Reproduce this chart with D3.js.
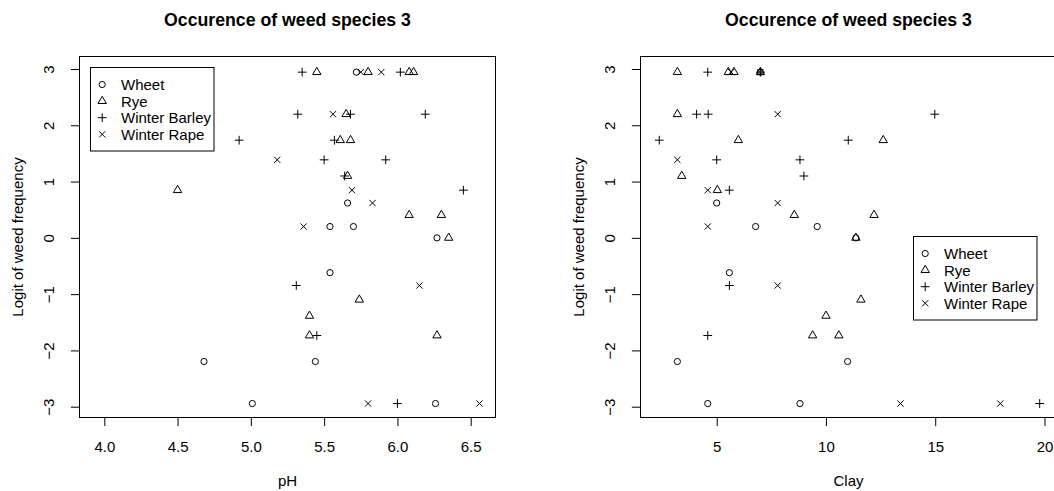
<!DOCTYPE html>
<html>
<head>
<meta charset="utf-8">
<script src="https://cdn.jsdelivr.net/npm/d3@7"></script>
<style>
  html, body { margin: 0; padding: 0; background: #fff; }
  svg { display: block; }
  text { font-family: "Liberation Sans", Arial, Helvetica, sans-serif; fill: #000; }
</style>
</head>
<body>
<svg id="chart" width="1054" height="491"></svg>
<script>
// Field observations: logit of weed frequency against soil pH and clay content, per crop
const cropNames = ["Wheet", "Rye", "Winter Barley", "Winter Rape"];

const wheetLogit = [2.944, 0.619, 0.201, 0.201, 0, -0.619, -2.197, -2.197, -2.944, -2.944];
const wheetPH    = [5.72, 5.66, 5.54, 5.70, 6.27, 5.54, 4.68, 5.44, 5.01, 6.26];
const wheetClay  = [7.0, 5.0, 6.78, 9.60, 11.37, 5.58, 3.20, 10.99, 4.59, 8.81];

const ryeLogit = [2.944, 2.944, 2.944, 2.944, 2.197, 1.735, 1.735, 1.099, 0.847, 0.405, 0.405, 0, -1.099, -1.386, -1.735, -1.735];
const ryePH    = [5.45, 5.80, 6.08, 6.11, 5.65, 5.61, 5.68, 5.66, 4.50, 6.08, 6.30, 6.35, 5.74, 5.40, 5.40, 6.27];
const ryeClay  = [3.2, 5.53, 5.79, 7.0, 3.2, 5.99, 12.62, 3.4, 5.03, 8.55, 12.2, 11.37, 11.6, 10.0, 9.39, 10.59];

const barleyLogit = [2.944, 2.944, 2.197, 2.197, 2.197, 1.735, 1.735, 1.386, 1.386, 1.099, 0.847, -0.847, -1.735, -2.944];
const barleyPH    = [5.35, 6.02, 5.32, 5.68, 6.19, 4.92, 5.57, 5.50, 5.92, 5.64, 6.45, 5.31, 5.45, 6.00];
const barleyClay  = [4.59, 7.0, 4.08, 4.61, 14.98, 2.37, 11.02, 5.0, 8.81, 8.99, 5.58, 5.58, 4.59, 19.78];

const rapeLogit = [2.944, 2.944, 2.197, 1.386, 0.847, 0.619, 0.201, -0.847, -2.944, -2.944];
const rapePH    = [5.75, 5.89, 5.56, 5.18, 5.69, 5.83, 5.36, 6.15, 5.80, 6.56];
const rapeClay  = [5.66, 7.0, 7.79, 3.2, 4.59, 7.79, 4.59, 7.79, 13.41, 17.98];

const phTicks    = [4.0, 4.5, 5.0, 5.5, 6.0, 6.5];
const clayTicks  = [5, 10, 15, 20];
const logitTicks = [-3, -2, -1, 0, 1, 2, 3];

const chartTitle = "Occurence of weed species 3";
const yTitle = "Logit of weed frequency";

// ---- assemble per-crop records ----
const groups = [
  { name: cropNames[0], shape: "circle",   y: wheetLogit,  ph: wheetPH,  clay: wheetClay },
  { name: cropNames[1], shape: "triangle", y: ryeLogit,    ph: ryePH,    clay: ryeClay },
  { name: cropNames[2], shape: "plus",     y: barleyLogit, ph: barleyPH, clay: barleyClay },
  { name: cropNames[3], shape: "cross",    y: rapeLogit,   ph: rapePH,   clay: rapeClay }
];

const svg = d3.select("#chart");
const S = 3.1;            // base symbol size (px)
const FONT = "15px";      // axis / legend text
const TITLE_FONT = "17.7px";

function symbolPath(shape) {
  switch (shape) {
    case "circle": {
      return `M${-S},0A${S},${S} 0 1,0 ${S},0A${S},${S} 0 1,0 ${-S},0Z`;
    }
    case "triangle": {
      const r = 1.5551 * S, yc = 0.7776 * S, xc = 1.3468 * S;
      return `M0,${-r}L${xc},${yc}L${-xc},${yc}Z`;
    }
    case "plus": {
      const h = Math.SQRT2 * S;
      return `M${-h},0L${h},0M0,${-h}L0,${h}`;
    }
    case "cross": {
      return `M${-S},${-S}L${S},${S}M${-S},${S}L${S},${-S}`;
    }
  }
}

const yScaleFor = () => d3.scaleLinear().domain([-3.192, 3.222]).range([417.5, 56.5]);

function drawPanel(opts) {
  const x = d3.scaleLinear().domain(opts.xDomain).range(opts.xRange);
  const y = yScaleFor();
  const [x0, x1] = opts.xRange;
  const g = svg.append("g");

  // title
  g.append("text")
    .attr("x", (x0 + x1) / 2).attr("y", 26)
    .attr("text-anchor", "middle")
    .style("font-size", TITLE_FONT).style("font-weight", "bold")
    .text(chartTitle);

  // x axis
  const xAxis = d3.axisBottom(x).tickValues(opts.xTicks).tickSize(8.6).tickSizeOuter(0)
    .tickFormat(opts.xFormat);
  const gx = g.append("g").attr("transform", "translate(0,417.5)").call(xAxis);
  gx.select(".domain").attr("d", `M${x(opts.xTicks[0])},0H${x(opts.xTicks[opts.xTicks.length - 1])}`);
  gx.selectAll(".tick line").attr("stroke", "#000");
  gx.selectAll(".tick text").attr("y", 34.2).attr("dy", 0)
    .style("font-size", FONT).style("font-family", "'Liberation Sans', Arial, sans-serif");

  // y axis (labels rotated, as in base graphics)
  const yAxis = d3.axisLeft(y).tickValues(logitTicks).tickSize(8.6).tickSizeOuter(0)
    .tickFormat(d => d < 0 ? "\u2212" + Math.abs(d) : String(d));
  const gy = g.append("g").attr("transform", `translate(${x0},0)`).call(yAxis);
  gy.select(".domain").attr("d", `M0,${y(-3)}V${y(3)}`);
  gy.selectAll(".tick line").attr("stroke", "#000");
  gy.selectAll(".tick text")
    .attr("x", null).attr("dy", null)
    .attr("transform", "translate(-26,0) rotate(-90)")
    .attr("text-anchor", "middle")
    .attr("y", 0)
    .style("font-size", FONT).style("font-family", "'Liberation Sans', Arial, sans-serif");

  // axis titles
  g.append("text")
    .attr("x", (x0 + x1) / 2).attr("y", 486)
    .attr("text-anchor", "middle").style("font-size", FONT)
    .text(opts.xTitle);
  g.append("text")
    .attr("transform", `translate(${x0 - 57},${(56.5 + 417.5) / 2}) rotate(-90)`)
    .attr("text-anchor", "middle").style("font-size", FONT)
    .text(yTitle);

  // plot box
  g.append("rect")
    .attr("x", x0).attr("y", 56.5)
    .attr("width", x1 - x0).attr("height", 417.5 - 56.5)
    .attr("fill", "none").attr("stroke", "#000").attr("stroke-width", 1);

  // points
  groups.forEach(grp => {
    const pts = grp.y.map((v, i) => ({ xv: grp[opts.key][i], yv: v }));
    g.append("g").selectAll("path").data(pts).join("path")
      .attr("transform", d => `translate(${x(d.xv)},${y(d.yv)})`)
      .attr("d", symbolPath(grp.shape))
      .attr("fill", "none").attr("stroke", "#000").attr("stroke-width", 1);
  });

  // legend
  const lx = x(opts.legendAt[0]), ly = y(opts.legendAt[1]);
  const lg = g.append("g").attr("transform", `translate(${Math.round(lx) + 0.5},${Math.round(ly) + 0.5})`);
  lg.append("rect").attr("width", 123.5).attr("height", 83.5)
    .attr("fill", "none").attr("stroke", "#000").attr("stroke-width", 1);
  groups.forEach((grp, i) => {
    const ry = 17 + i * 16.6;
    lg.append("path").attr("transform", `translate(11.7,${ry})`)
      .attr("d", symbolPath(grp.shape))
      .attr("fill", "none").attr("stroke", "#000").attr("stroke-width", 1);
    lg.append("text").attr("x", 30.5).attr("y", ry + 5.4)
      .style("font-size", FONT).text(grp.name);
  });
}

drawPanel({
  key: "ph",
  xDomain: [3.8308, 6.6692],
  xRange: [79.5, 495.5],
  xTicks: phTicks,
  xFormat: d3.format(".1f"),
  xTitle: "pH",
  legendAt: [3.9, 3.04]
});

drawPanel({
  key: "clay",
  xDomain: [1.5126, 20.55],
  xRange: [640.5, 1056.5],
  xTicks: clayTicks,
  xFormat: d3.format("d"),
  xTitle: "Clay",
  legendAt: [14, 0.03]
});
</script>
</body>
</html>
